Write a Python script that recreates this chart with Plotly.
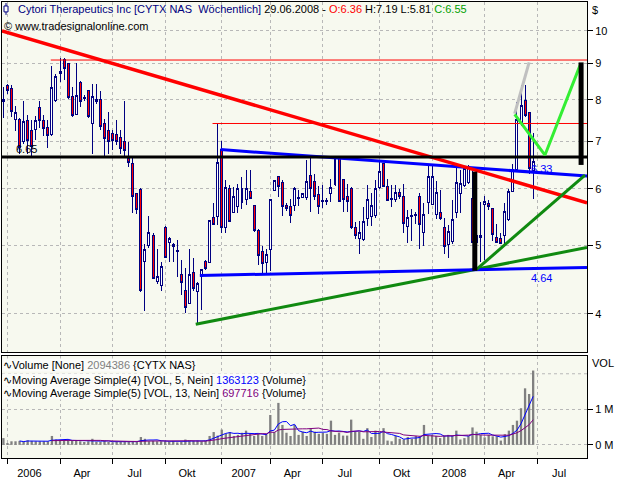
import math
import pandas as pd
import plotly.graph_objects as go

# ---------------- data ----------------
last_week = "2008-06-29"
n_weeks = 132
weeks = pd.date_range(end=last_week, periods=n_weeks, freq="7D")

open_px = [7.95, 8.38, 8.29, 7.50, 7.51, 6.98, 7.49, 7.25, 7.26, 7.80,
           7.49, 7.31, 7.15, 7.98, 8.70, 9.13, 8.99, 8.09, 7.63, 8.47,
           8.04, 8.25, 7.42, 7.96, 8.00, 7.40, 7.25, 7.17, 7.15, 7.08,
           6.99, 6.61, 6.52, 5.90, 5.99, 4.74, 4.99, 5.15, 4.45, 4.39,
           5.30, 5.04, 5.01, 4.89, 4.55, 4.32, 4.14, 4.58, 4.30, 4.52,
           4.74, 4.72, 5.46, 5.48, 6.81, 5.30, 6.00, 5.55, 5.67, 6.00,
           5.80, 5.94, 5.69, 5.24, 4.90, 4.72, 4.93, 5.97, 6.24, 6.12,
           5.68, 5.66, 5.68, 5.81, 5.84, 5.84, 6.26, 6.15, 5.88, 5.75,
           5.76, 5.91, 6.08, 6.62, 6.18, 5.86, 6.00, 5.30, 5.10, 5.09,
           5.44, 5.49, 5.51, 6.03, 6.50, 6.05, 5.79, 5.80, 5.92, 5.86,
           5.31, 5.49, 5.50, 5.86, 5.20, 5.73, 5.71, 5.52, 5.55, 5.29,
           5.01, 5.06, 5.55, 5.91, 6.06, 6.12, 5.82, 5.04, 5.15, 5.70,
           5.72, 5.62, 5.13, 5.10, 5.15, 5.43, 5.94, 6.38, 7.40, 7.98,
           7.69, 6.36]
high_px = [8.35, 8.43, 8.38, 7.85, 7.55, 7.98, 7.61, 7.49, 7.59, 7.98,
           7.61, 7.49, 8.94, 8.70, 9.16, 9.15, 9.00, 8.34, 9.01, 8.49,
           8.12, 8.27, 8.43, 8.43, 8.23, 7.53, 7.69, 7.25, 7.49, 7.25,
           7.98, 6.98, 6.64, 5.91, 6.01, 5.01, 5.49, 5.20, 4.94, 4.74,
           5.31, 5.14, 5.04, 5.09, 4.77, 4.64, 4.94, 4.80, 4.43, 4.62,
           4.77, 5.43, 5.73, 7.41, 7.00, 6.17, 6.08, 6.03, 6.10, 6.24,
           6.38, 6.38, 5.69, 5.27, 4.98, 4.94, 5.80, 6.17, 6.26, 6.17,
           5.72, 5.80, 6.03, 5.97, 5.92, 6.58, 6.64, 6.30, 6.06, 6.08,
           5.82, 6.20, 6.64, 6.64, 6.18, 6.10, 6.03, 5.38, 5.40, 5.66,
           6.08, 5.91, 6.17, 6.58, 6.50, 6.20, 6.08, 6.08, 6.00, 6.10,
           5.60, 5.62, 5.57, 5.92, 5.73, 6.50, 6.50, 6.15, 5.98, 5.46,
           5.33, 5.79, 6.47, 6.38, 6.44, 6.47, 6.35, 5.35, 5.74, 5.86,
           5.78, 5.62, 5.35, 5.20, 5.72, 6.00, 6.50, 7.94, 8.38, 8.38,
           7.69, 7.19]
low_px = [7.55, 8.16, 7.57, 7.24, 6.71, 6.93, 6.71, 6.66, 7.02, 7.31,
          7.11, 6.84, 7.11, 7.95, 8.47, 8.53, 8.03, 7.57, 7.61, 7.81,
          7.98, 7.55, 6.72, 7.88, 7.26, 6.66, 6.71, 6.80, 6.91, 6.71,
          6.66, 6.44, 5.55, 5.52, 4.29, 4.04, 4.96, 4.48, 4.41, 4.31,
          4.80, 4.74, 4.74, 4.51, 4.25, 4.01, 4.14, 4.31, 3.88, 4.05,
          4.61, 4.71, 5.34, 5.34, 5.20, 5.20, 5.40, 5.55, 5.55, 5.61,
          5.70, 5.82, 5.22, 4.69, 4.57, 4.55, 4.60, 5.95, 5.84, 5.49,
          5.58, 5.37, 5.58, 5.68, 5.82, 5.79, 5.57, 5.79, 5.53, 5.63,
          5.70, 5.74, 6.06, 5.74, 5.57, 5.57, 5.27, 5.10, 4.85, 5.07,
          5.31, 5.31, 5.46, 6.00, 6.03, 5.76, 5.66, 5.74, 5.80, 5.20,
          5.03, 5.07, 5.36, 4.93, 4.98, 5.52, 5.69, 5.44, 5.42, 4.86,
          4.80, 5.01, 5.46, 5.55, 6.03, 6.10, 5.04, 4.64, 4.74, 4.77,
          5.60, 5.07, 5.03, 5.02, 5.01, 5.41, 5.94, 6.35, 7.35, 7.57,
          6.30, 5.81]
close_px = [8.00, 8.25, 7.71, 7.69, 6.85, 7.45, 7.02, 6.87, 7.49, 7.49,
            7.29, 7.12, 8.32, 8.62, 8.76, 8.86, 8.06, 7.61, 8.12, 7.96,
            8.07, 7.57, 8.09, 8.00, 7.33, 7.06, 6.98, 7.02, 6.98, 6.84,
            6.80, 6.53, 5.86, 5.61, 4.31, 4.93, 5.20, 4.49, 4.51, 4.67,
            4.81, 5.10, 4.97, 4.91, 4.43, 4.09, 4.55, 4.35, 4.42, 4.62,
            4.64, 5.41, 5.34, 6.54, 5.29, 6.03, 5.40, 5.86, 6.00, 5.74,
            6.00, 5.82, 5.24, 4.83, 4.71, 4.85, 5.80, 6.17, 6.05, 5.66,
            5.62, 5.50, 6.00, 5.83, 5.90, 6.15, 6.00, 5.86, 5.66, 5.77,
            5.77, 6.02, 6.64, 5.76, 5.79, 5.76, 5.29, 5.15, 5.20, 5.40,
            5.79, 5.69, 6.00, 6.35, 6.05, 5.78, 5.81, 5.93, 5.86, 5.36,
            5.46, 5.51, 5.52, 5.34, 5.52, 6.24, 6.24, 5.92, 5.44, 4.98,
            5.23, 5.43, 6.12, 6.10, 6.41, 6.44, 5.04, 5.16, 5.12, 5.75,
            5.66, 5.17, 5.04, 5.03, 5.57, 5.94, 6.38, 7.51, 7.85, 7.61,
            6.41, 6.55]
volume_m = [0.19, 0.05, 0.10, 0.10, 0.11, 0.10, 0.13, 0.11, 0.10, 0.10,
            0.10, 0.10, 0.25, 0.15, 0.12, 0.12, 0.13, 0.11, 0.12, 0.10,
            0.08, 0.10, 0.17, 0.09, 0.09, 0.12, 0.08, 0.07, 0.08, 0.08,
            0.10, 0.08, 0.11, 0.08, 0.22, 0.17, 0.10, 0.11, 0.10, 0.10,
            0.10, 0.09, 0.11, 0.07, 0.08, 0.15, 0.12, 0.11, 0.12, 0.10,
            0.12, 0.25, 0.36, 0.26, 0.43, 0.31, 0.36, 0.25, 0.28, 0.34,
            0.40, 0.31, 0.25, 0.31, 0.25, 0.31, 0.84, 0.36, 1.18, 0.56,
            0.34, 0.25, 0.56, 0.28, 0.37, 0.25, 0.47, 0.37, 0.31, 0.34,
            0.31, 0.68, 0.28, 0.34, 0.26, 0.26, 0.71, 0.37, 0.37, 0.17,
            0.47, 0.22, 0.40, 0.36, 0.47, 0.12, 0.10, 0.25, 0.17, 0.15,
            0.22, 0.17, 0.25, 0.25, 0.56, 0.25, 0.28, 0.25, 0.19, 0.26,
            0.28, 0.25, 0.40, 0.15, 0.19, 0.25, 0.49, 0.37, 0.28, 0.21,
            0.28, 0.24, 0.24, 0.12, 0.30, 0.40, 0.56, 0.68, 1.03, 1.59,
            1.43, 2.09]

# moving averages of volume (Simple, periods 5 and 13)
ma_fast = pd.Series(volume_m).rolling(5).mean()
ma_slow = pd.Series(volume_m).rolling(13).mean()

# x axis: quarter ticks (first weekly bar of each quarter) and labels
quarter_starts = ["2006-01-01", "2006-04-02", "2006-07-02", "2006-10-01",
                  "2007-01-07", "2007-04-01", "2007-07-01", "2007-10-07",
                  "2008-01-06", "2008-04-06", "2008-07-06"]
quarter_labels = ["2006", "Apr", "Jul", "Okt", "2007", "Apr", "Jul", "Okt",
                  "2008", "Apr", "Jul"]
x_range = ["2005-12-22 14:00", "2008-09-30 05:00"]

price_ticks = [4, 5, 6, 7, 8, 9, 10]
price_range = [3.537, 10.98]
vol_ticks = [0, 1]
vol_ticktext = ["0 M", "1 M"]
vol_range = [-0.37, 2.50]

# drawings (trend lines / levels)
red_trend = (["2005-12-22 14:00", "2008-09-30 05:00"], [10.0, 5.73])
level_high = (["2006-03-17", "2008-09-30 05:00"], [9.10, 9.10])
level_mid = (["2006-12-22", "2008-09-30 05:00"], [7.41, 7.41])
level_black = (["2005-12-22 14:00", "2008-09-30 05:00"], [6.65, 6.65])
blue_upper = (["2007-01-05", "2008-09-30 05:00"], [6.81, 6.25])
blue_lower = (["2006-11-30", "2008-09-30 05:00"], [4.53, 4.65])
green_long = (["2006-11-23", "2008-09-30 05:00"], [3.87, 4.96])
green_short = (["2008-03-23", "2008-09-26 19:00"], [4.62, 6.27])
bar_left = (["2008-03-20", "2008-03-20"], [4.60, 6.34])
bar_right = (["2008-09-20", "2008-09-20"], [6.48, 9.03])
gray_proj = (["2008-05-28", "2008-06-22"], [7.65, 9.03])
lime_proj = (["2008-05-28", "2008-07-19 12:00", "2008-09-19"], [7.63, 6.69, 8.98])

# ---------------- figure ----------------
NAVY = "#000080"
GRID = "#B8B8B8"
BG = "#F7F9EF"

fig = go.Figure()

fig.add_trace(go.Candlestick(
    x=weeks, open=open_px, high=high_px, low=low_px, close=close_px,
    increasing=dict(line=dict(color=NAVY, width=1), fillcolor="#FFFFFF"),
    decreasing=dict(line=dict(color=NAVY, width=1), fillcolor="#FF0000"),
    whiskerwidth=0, xaxis="x", yaxis="y", showlegend=False, hoverinfo="skip"))


def add_line(data, color, width):
    xs, ys = data
    fig.add_trace(go.Scatter(x=xs, y=ys, mode="lines",
                             line=dict(color=color, width=width),
                             xaxis="x", yaxis="y", showlegend=False,
                             hoverinfo="skip"))


add_line(level_high, "#FF0000", 1)
add_line(level_mid, "#FF0000", 1)
add_line(green_long, "#108A10", 3)
add_line(blue_lower, "#0000FF", 3)
add_line(blue_upper, "#0000FF", 3)
add_line(red_trend, "#FF0000", 3.5)
add_line(level_black, "#000000", 3)
add_line(green_short, "#108A10", 3)
add_line(gray_proj, "#C0C0C0", 3)
add_line(lime_proj, "#33EE33", 3)
add_line(bar_left, "#000000", 5)
add_line(bar_right, "#000000", 5)

# volume panel
fig.add_trace(go.Bar(x=weeks, y=volume_m, marker=dict(color="#808080", line=dict(width=0)),
                     width=4.0 * 86400000, xaxis="x2", yaxis="y2",
                     showlegend=False, hoverinfo="skip"))
fig.add_trace(go.Scatter(x=weeks, y=ma_fast, mode="lines", line=dict(color="#0000FF", width=1),
                         xaxis="x2", yaxis="y2", showlegend=False, hoverinfo="skip"))
fig.add_trace(go.Scatter(x=weeks, y=ma_slow, mode="lines", line=dict(color="#800080", width=1),
                         xaxis="x2", yaxis="y2", showlegend=False, hoverinfo="skip"))

label_dates = [(pd.Timestamp(d) + pd.Timedelta(days=38)).strftime("%Y-%m-%d") for d in quarter_starts]

axis_common = dict(showline=True, linecolor="black", linewidth=1, mirror=True,
                   zeroline=False, gridcolor=GRID, griddash="dot", gridwidth=1)

fig.update_layout(
    width=640, height=480,
    margin=dict(l=2, r=53, t=1, b=20),
    paper_bgcolor="white", plot_bgcolor=BG,
    font=dict(family="Liberation Sans", size=11, color="black"),
    showlegend=False,
    xaxis=dict(domain=[0, 1], anchor="y", type="date", range=x_range,
               rangeslider=dict(visible=False), showticklabels=False,
               tickmode="array", tickvals=quarter_starts, ticks="",
               showgrid=True, **axis_common),
    xaxis2=dict(domain=[0, 1], anchor="y2", type="date", range=x_range,
                rangeslider=dict(visible=False),
                tickmode="array", tickvals=label_dates, ticktext=quarter_labels,
                ticks="outside", ticklen=5, tickcolor="rgba(0,0,0,0)",
                showgrid=False,
                minor=dict(tickmode="array", tickvals=quarter_starts, ticks="outside",
                           ticklen=5, tickcolor="black", showgrid=True,
                           gridcolor=GRID, griddash="dot", gridwidth=1),
                tickfont=dict(size=11), showline=True, linecolor="black", linewidth=1,
                mirror=True, zeroline=False),
    yaxis=dict(domain=[0.2325, 1], anchor="x", type="log",
               range=[math.log10(price_range[0]), math.log10(price_range[1])],
               side="right", tickmode="array", tickvals=price_ticks,
               ticktext=[str(v) for v in price_ticks],
               ticks="outside", ticklen=5, tickcolor="black",
               showgrid=True, **axis_common),
    yaxis2=dict(domain=[0, 0.22375], anchor="x2", range=vol_range,
                side="right", tickmode="array", tickvals=vol_ticks, ticktext=vol_ticktext,
                ticks="outside", ticklen=5, tickcolor="black",
                showgrid=True, **axis_common),
)

# 2 M grid line of the volume panel (no label)
fig.add_shape(type="line", xref="x2 domain", x0=0, x1=1, yref="y2", y0=2, y1=2,
              line=dict(color=GRID, width=1, dash="dot"), layer="below")

# small candle icon in the header
def px_x(p):
    return (p - 2) / 585.0


def px_y(p):
    return (460 - p) / 459.0


fig.add_shape(type="line", xref="paper", yref="paper", x0=px_x(6), x1=px_x(6),
              y0=px_y(2), y1=px_y(14), line=dict(color=NAVY, width=1))
fig.add_shape(type="rect", xref="paper", yref="paper", x0=px_x(4), x1=px_x(8),
              y0=px_y(5), y1=px_y(11), line=dict(color=NAVY, width=1), fillcolor="white")

header = ('<span style="color:#000080">Cytori Therapeutics Inc [CYTX NAS  Wöchentlich]</span> '
          '29.06.2008 - <span style="color:#FF0000">O:6.36</span> H:7.19 L:5.81 '
          '<span style="color:#00A000">C:6.55</span>')
LEG_BG = "#FBFCF9"
annots = [
    dict(text=header, xref="paper", yref="paper", x=px_x(16), y=px_y(8),
         xanchor="left", yanchor="middle"),
    dict(text="© www.tradesignalonline.com", xref="paper", yref="paper",
         x=px_x(2), y=px_y(25), xanchor="left", yanchor="middle"),
    dict(text="$", xref="paper", yref="paper", x=1, xshift=3, y=px_y(9),
         xanchor="left", yanchor="middle"),
    dict(text="VOL", xref="paper", yref="paper", x=1, xshift=3, y=px_y(364),
         xanchor="left", yanchor="middle"),
    dict(text="6.65", xref="x", yref="y", x="2006-02-03", y=math.log10(6.65),
         xanchor="center", yanchor="bottom", yshift=0),
    dict(text='<span style="color:#0000FF">6.33</span>', xref="x", yref="y",
         x="2008-07-14", y=math.log10(6.33), xanchor="center", yanchor="middle", yshift=3),
    dict(text='<span style="color:#0000FF">4.64</span>', xref="x", yref="y",
         x="2008-07-14", y=math.log10(4.64), xanchor="center", yanchor="top", yshift=-2),
    dict(text='∿Volume [None] <span style="color:#808080">2094386</span> {CYTX NAS}',
         xref="paper", yref="paper", x=px_x(2), y=px_y(366), xanchor="left", yanchor="middle",
         bgcolor=LEG_BG, borderpad=0),
    dict(text='∿Moving Average Simple(4) [VOL, 5, Nein] <span style="color:#0000FF">1363123</span> {Volume}',
         xref="paper", yref="paper", x=px_x(2), y=px_y(381), xanchor="left", yanchor="middle",
         bgcolor=LEG_BG, borderpad=0),
    dict(text='∿Moving Average Simple(5) [VOL, 13, Nein] <span style="color:#800080">697716</span> {Volume}',
         xref="paper", yref="paper", x=px_x(2), y=px_y(395), xanchor="left", yanchor="middle",
         bgcolor=LEG_BG, borderpad=0),
]
for a in annots:
    a.setdefault("showarrow", False)
    a.setdefault("font", dict(size=11, color="black", family="Liberation Sans"))
    fig.add_annotation(**a)

page_js = ("document.body.style.margin='0';"
           "var st=document.createElement('style');"
           "st.innerHTML='.boxlayer path{shape-rendering:crispEdges}';"
           "document.head.appendChild(st);")
fig.write_html("out.html", post_script=page_js, config={"displayModeBar": False})
